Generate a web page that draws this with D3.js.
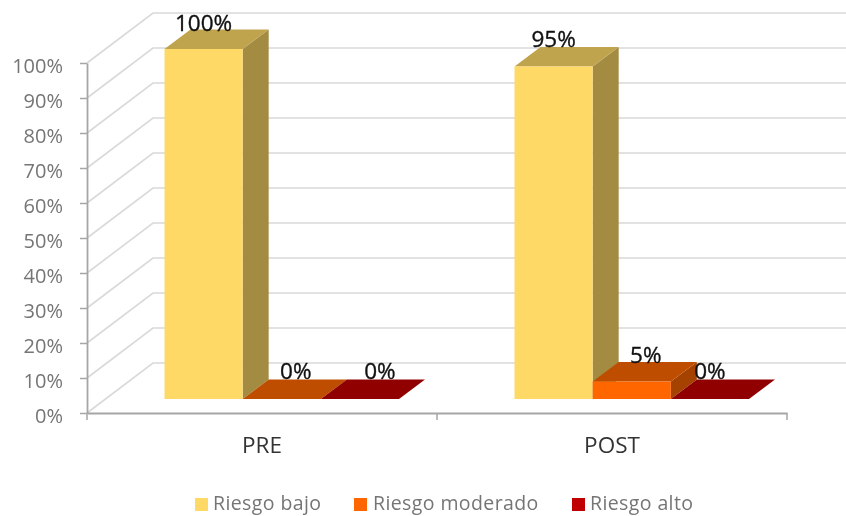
<!DOCTYPE html>
<html><head><meta charset="utf-8">
<script src="https://cdnjs.cloudflare.com/ajax/libs/d3/7.8.5/d3.min.js"></script>
<style>html,body{margin:0;padding:0;background:#fff}svg{display:block;filter:blur(0.45px)}text{font-family:"Open Sans",sans-serif}</style>
</head><body><svg id="c" width="846" height="516"></svg>
<script>
const categories = ["PRE", "POST"];
const seriesNames = ["Riesgo bajo", "Riesgo moderado", "Riesgo alto"];
const riesgoBajo = [100, 95];
const riesgoModerado = [0, 5];
const riesgoAlto = [0, 0];
const yTicks = [0,10,20,30,40,50,60,70,80,90,100];
const seriesValues = [riesgoBajo, riesgoModerado, riesgoAlto];
const front = ["#FFD966","#FF6600","#C00000"];
const top_ = ["#BFA34D","#BF4D00","#900000"];
const side = ["#A38C42","#A64200","#7D0000"];

const svg = d3.select("#c");
const W = {dx:66, dy:-50};      // wall depth
const B = {dx:26, dy:-19.5};    // bar depth
const B0 = 14;                  // bar front plane offset from axis plane
const labelShift = [[0,0],[14,14],[20,0]]; // label offset from bar centre, [series][category]
const labelLift = [[0,1],[2,0],[2,2]];     // label lift above bar top, [series][category]
const y = d3.scaleLinear().domain([0,100]).range([413,63]);
const x0 = d3.scaleBand().domain(categories).range([87,787]);
const x1 = d3.scaleBand().domain(seriesNames).range([77.5,312]);

yTicks.forEach(t=>{
  svg.append("path").attr("fill","none").attr("stroke","#D9D9D9").attr("stroke-width",1.6)
   .attr("d",`M87,${y(t)}L${87+W.dx},${y(t)+W.dy}L846,${y(t)+W.dy}`);
});

const ya = svg.append("g").attr("transform","translate(87,0)")
  .call(d3.axisLeft(y).tickValues(yTicks).tickFormat(d=>d+"%").tickSize(7).tickPadding(17).tickSizeOuter(0));
ya.select(".domain").attr("stroke","#A6A6A6").attr("stroke-width",1.8);
ya.selectAll("line").attr("stroke","#A6A6A6").attr("stroke-width",1.5);
ya.selectAll("text").attr("fill","#757575").style("font-size","20px").attr("dy","0.45em");

const xa = svg.append("g").attr("transform","translate(0,413)")
  .call(d3.axisBottom(x0).tickSize(0).tickPadding(24));
xa.select(".domain").attr("stroke","#A6A6A6").attr("stroke-width",1.8);
xa.selectAll("text").attr("fill","#333").style("font-size","22.5px");
[87,437,787].forEach(v=>svg.append("line").attr("x1",v).attr("x2",v).attr("y1",413).attr("y2",420).attr("stroke","#A6A6A6").attr("stroke-width",1.5));

categories.forEach((c,ci)=>{
  const base = x0(c);
  seriesNames.forEach((s,si)=>{
    const v = seriesValues[si][ci];
    const xl = base + x1(s), xr = xl + x1.bandwidth();
    const yb = y(0) - B0, yt = y(v) - B0;
    const d = B;
    svg.append("polygon").attr("fill",side[si])
      .attr("points",[[xr,yb],[xr+d.dx,yb+d.dy],[xr+d.dx,yt+d.dy],[xr,yt]].join(" "));
    svg.append("polygon").attr("fill",top_[si])
      .attr("points",[[xl,yt],[xl+d.dx,yt+d.dy],[xr+d.dx,yt+d.dy],[xr,yt]].join(" "));
    svg.append("rect").attr("x",xl).attr("y",yt).attr("width",xr-xl).attr("height",yb-yt).attr("fill",front[si]);
  });
});
categories.forEach((c,ci)=>{
  seriesNames.forEach((s,si)=>{
    const v = seriesValues[si][ci];
    svg.append("text").text(v+"%")
      .attr("x",x0(c)+x1(s)+x1.bandwidth()/2+labelShift[si][ci])
      .attr("y",y(v)-B0+B.dy+1-labelLift[si][ci])
      .attr("text-anchor","middle").attr("fill","#111")
      .attr("stroke","#111").attr("stroke-width",0.35)
      .style("font-size","22.5px");
  });
});

const lx = [195,354,572], tx = [213,373,590];
seriesNames.forEach((s,i)=>{
  svg.append("rect").attr("x",lx[i]).attr("y",498).attr("width",13).attr("height",13).attr("fill",front[i]);
  svg.append("text").text(s).attr("x",tx[i]).attr("y",510).attr("fill","#757575")
    .style("font-size","19.5px").style("letter-spacing","0.4px");
});
</script></body></html>
